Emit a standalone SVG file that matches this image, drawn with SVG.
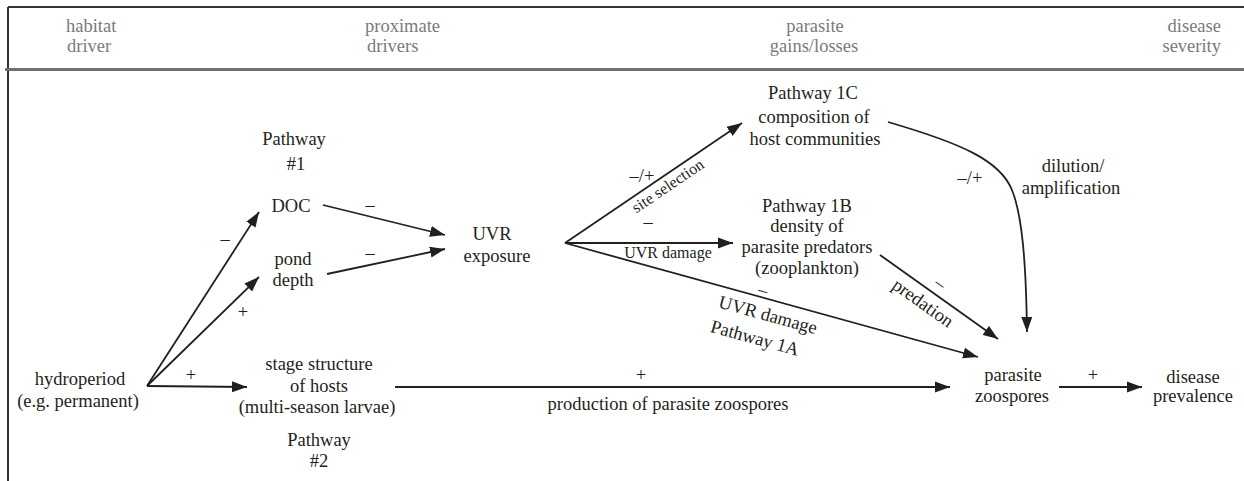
<svg xmlns="http://www.w3.org/2000/svg" width="1244" height="481" viewBox="0 0 1244 481" font-family="'Liberation Serif', Tinos, 'Times New Roman', 'DejaVu Serif', serif">
<style>
text{font-family:'Liberation Serif',Tinos,'Times New Roman','DejaVu Serif',serif;font-size:18.5px;fill:#231f20}
.h{fill:#7a7a7a}
.m{text-anchor:middle}
.s{font-size:16px}
.c{fill:none;stroke:#231f20;stroke-width:1.8}
</style>
<defs>
<marker id="ah" markerUnits="userSpaceOnUse" markerWidth="16" markerHeight="12" refX="15" refY="6" orient="auto">
<path d="M0,0.5 L15,6 L0,11.5 Z" fill="#231f20"/>
</marker>
</defs>
<rect width="1244" height="481" fill="#fff"/>
<g id="frame">
<line x1="8" y1="7" x2="1244" y2="7" stroke="#333" stroke-width="2"/>
<line x1="8" y1="7" x2="8" y2="481" stroke="#333" stroke-width="2"/>
<line x1="5" y1="69.5" x2="1244" y2="69.5" stroke="#707070" stroke-width="3"/>
</g>
<g id="header">
<text class="h" x="66" y="32">habitat</text>
<text class="h" x="67" y="52">driver</text>
<text class="h" x="365" y="32">proximate</text>
<text class="h" x="367" y="52">drivers</text>
<text class="h m" x="815" y="32">parasite</text>
<text class="h m" x="814" y="52">gains/losses</text>
<text class="h" x="1221" y="32" text-anchor="end">disease</text>
<text class="h" x="1221" y="52" text-anchor="end">severity</text>
</g>
<g id="connectors">
<line class="c" x1="147" y1="386" x2="259" y2="212" marker-end="url(#ah)"/>
<line class="c" x1="147" y1="386" x2="259" y2="277" marker-end="url(#ah)"/>
<line class="c" x1="147" y1="386" x2="247" y2="387" marker-end="url(#ah)"/>
<line class="c" x1="323" y1="205" x2="445" y2="235" marker-end="url(#ah)"/>
<line class="c" x1="327" y1="274" x2="445" y2="249" marker-end="url(#ah)"/>
<line class="c" x1="565" y1="243" x2="742" y2="123" marker-end="url(#ah)"/>
<line class="c" x1="565" y1="243" x2="733" y2="243" marker-end="url(#ah)"/>
<line class="c" x1="565" y1="243" x2="978" y2="357" marker-end="url(#ah)"/>
<line class="c" x1="880" y1="255" x2="998" y2="339" marker-end="url(#ah)"/>
<path class="c" d="M888,122 C960,143 1000,160 1012,190 C1022,215 1026,260 1027,332" marker-end="url(#ah)"/>
<line class="c" x1="395" y1="387" x2="950" y2="387" marker-end="url(#ah)"/>
<line class="c" x1="1059" y1="387" x2="1142" y2="387" marker-end="url(#ah)"/>
<text x="225" y="245" class="m">–</text>
<text x="243" y="318" class="m">+</text>
<text x="191" y="381" class="m">+</text>
<text x="370" y="211" class="m">–</text>
<text x="370" y="259" class="m">–</text>
<text x="642" y="182" class="m">–/+</text>
<text class="s m" transform="translate(668,186) rotate(-34)" y="5">site selection</text>
<text x="648" y="228" class="m">–</text>
<text class="s m" x="668" y="258">UVR damage</text>
<text class="m" transform="translate(763,291) rotate(15.4)" y="5">–</text>
<text class="m" transform="translate(768,315) rotate(15.4)" y="6">UVR damage</text>
<text class="m" transform="translate(755,338) rotate(15.4)" y="6">Pathway 1A</text>
<text class="m" transform="translate(940,284) rotate(35.4)" y="5">–</text>
<text class="m" transform="translate(923,303) rotate(35.4)" y="6">predation</text>
<text x="970" y="184" class="m">–/+</text>
<text x="1073" y="172" class="m">dilution/</text>
<text x="1071" y="194" class="m">amplification</text>
<text x="641" y="381" class="m">+</text>
<text x="668" y="410" class="m">production of parasite zoospores</text>
<text x="1093" y="381" class="m">+</text>
</g>
<g id="hydroperiod">
<text x="80" y="385" class="m">hydroperiod</text>
<text x="78" y="407" class="m">(e.g. permanent)</text>
</g>
<g id="pathway1">
<text x="294" y="145" class="m">Pathway</text>
<text x="296" y="170" class="m">#1</text>
</g>
<g id="doc"><text x="291" y="212" class="m">DOC</text></g>
<g id="pond-depth">
<text x="293" y="265" class="m">pond</text>
<text x="293" y="286" class="m">depth</text>
</g>
<g id="stage-structure">
<text x="319" y="370" class="m">stage structure</text>
<text x="319" y="392" class="m">of hosts</text>
<text x="317" y="413" class="m">(multi-season larvae)</text>
<text x="319" y="446" class="m">Pathway</text>
<text x="319" y="467" class="m">#2</text>
</g>
<g id="uvr">
<text x="492" y="240" class="m">UVR</text>
<text x="497" y="262" class="m">exposure</text>
</g>
<g id="pathway1c">
<text x="813" y="99" class="m">Pathway 1C</text>
<text x="814" y="123" class="m">composition of</text>
<text x="815" y="145" class="m">host communities</text>
</g>
<g id="pathway1b">
<text x="807" y="212" class="m">Pathway 1B</text>
<text x="807" y="232" class="m">density of</text>
<text x="807" y="253" class="m">parasite predators</text>
<text x="807" y="274" class="m">(zooplankton)</text>
</g>
<g id="parasite-zoospores">
<text x="1013" y="381" class="m">parasite</text>
<text x="1012" y="402" class="m">zoospores</text>
</g>
<g id="disease-prevalence">
<text x="1193" y="383" class="m">disease</text>
<text x="1193" y="402" class="m">prevalence</text>
</g>
</svg>
